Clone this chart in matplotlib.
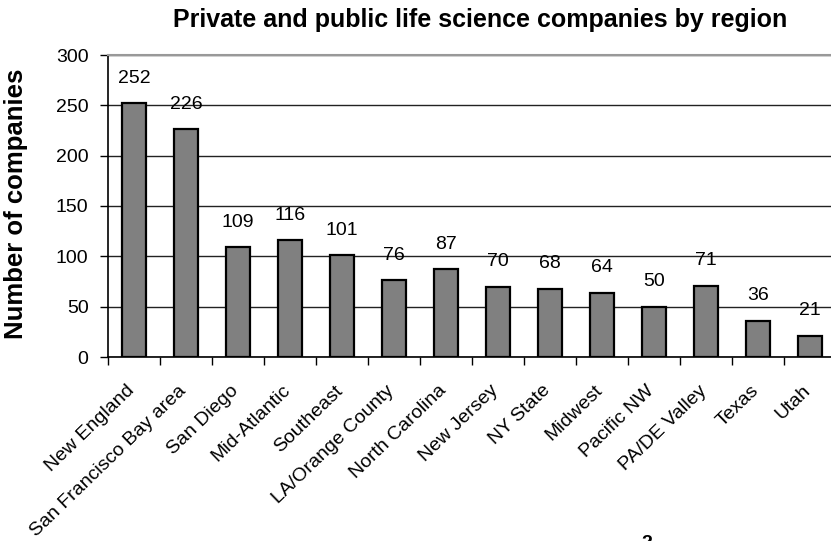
import numpy as np
import matplotlib.pyplot as plt
from matplotlib.transforms import ScaledTranslation

plt.rcParams['font.family'] = ['Liberation Sans', 'DejaVu Sans']

regions = ['New England', 'San Francisco Bay area', 'San Diego', 'Mid-Atlantic',
           'Southeast', 'LA/Orange County', 'North Carolina', 'New Jersey',
           'NY State', 'Midwest', 'Pacific NW', 'PA/DE Valley', 'Texas', 'Utah']
companies = [252, 226, 109, 116, 101, 76, 87, 70, 68, 64, 50, 71, 36, 21]
yticks = [0, 50, 100, 150, 200, 250, 300]

fig = plt.figure(figsize=(8.31, 5.41), dpi=100)
# plot area runs off the right edge of the figure
ax = fig.add_axes([108 / 831, 184 / 541, 728 / 831, 302 / 541])

x = np.arange(len(regions))
bars = ax.bar(x, companies, width=0.47, color='#808080', edgecolor='black',
              linewidth=1.6, zorder=3)

for xi, v in zip(x, companies):
    ax.annotate(str(v), (xi, v), xytext=(0, 18), textcoords='offset points',
                ha='center', va='center', fontsize=14, zorder=4)

ax.set_xlim(-0.5, len(regions) - 0.5)
ax.set_ylim(0, 300)
ax.set_yticks(yticks)
ax.grid(axis='y', color='#222222', linewidth=1.0, zorder=1)
ax.tick_params(axis='y', labelsize=14, length=6, width=1, direction='out', pad=8)

# tick marks sit between categories, labels sit under the bars
ax.set_xticks(x)
ax.set_xticklabels(regions, rotation=44, ha='right', rotation_mode='anchor',
                   fontsize=14)
ax.tick_params(axis='x', which='major', length=0, pad=18)
ax.set_xticks(np.arange(len(regions) + 1) - 0.5, minor=True)
ax.tick_params(axis='x', which='minor', length=6, width=1, direction='out')
shift = ScaledTranslation(-8 / 100, 0, fig.dpi_scale_trans)
for lab in ax.get_xticklabels():
    lab.set_transform(lab.get_transform() + shift)

for side in ['left', 'bottom']:
    ax.spines[side].set_color('black')
    ax.spines[side].set_linewidth(1.2)
ax.spines['top'].set_color('#999999')
ax.spines['top'].set_linewidth(1.5)
ax.spines['right'].set_visible(False)

fig.text(480 / 831, 1 - 20 / 541, 'Private and public life science companies by region',
         ha='center', va='center', fontsize=18, fontweight='bold')
fig.text(16 / 831, 1 - 204 / 541, 'Number of companies', rotation=90,
         ha='center', va='center', fontsize=18.5, fontweight='bold')
# footnote marker, cut off at the bottom edge
fig.text(647 / 831, 1 - 535 / 541, '2', ha='center', va='top',
         fontsize=14, fontweight='bold')

fig.savefig('out.png', dpi=100)
